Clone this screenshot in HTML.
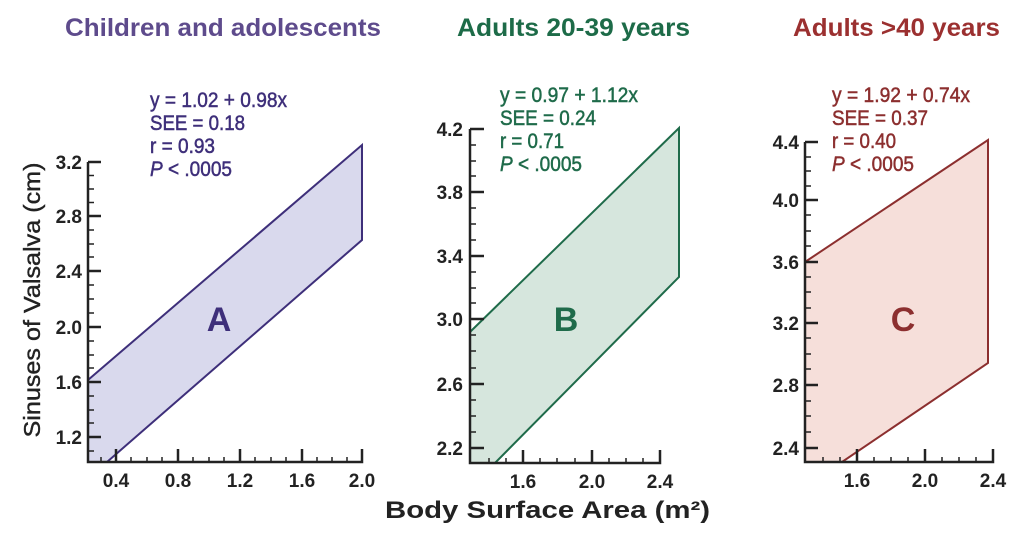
<!DOCTYPE html>
<html><head><meta charset="utf-8"><style>
html,body{margin:0;padding:0;background:#fff;}
svg{display:block;}
text{font-family:"Liberation Sans",sans-serif;}
</style></head><body>
<svg width="1024" height="540" viewBox="0 0 1024 540" xmlns="http://www.w3.org/2000/svg">
<!-- Titles -->
<text x="65" y="36" font-size="25" font-weight="bold" fill="#5e4b8c" textLength="316" lengthAdjust="spacingAndGlyphs">Children and adolescents</text>
<text x="457" y="36" font-size="25" font-weight="bold" fill="#1d6b48" textLength="233" lengthAdjust="spacingAndGlyphs">Adults 20-39 years</text>
<text x="793" y="36" font-size="25" font-weight="bold" fill="#9b3030" textLength="207" lengthAdjust="spacingAndGlyphs">Adults &gt;40 years</text>

<!-- Panel A -->
<polygon points="88,380 362,145 362,240 107,462 88,462" fill="#d9d9ed" stroke="#3e2f7a" stroke-width="2"/>
<g stroke="#222" stroke-width="2.5" fill="none">
<path d="M88,162 V462 H362 V449"/>
<path d="M88,162 H101 M88,216 H101 M88,271 H101 M88,327 H101 M88,382 H101 M88,437 H101"/>
<path d="M116,462 V449 M178,462 V449 M240,462 V449 M302,462 V449"/>
</g>
<g stroke="#222" stroke-width="1.5">
<path d="M88,175.5 H94 M88,189 H94 M88,202.5 H94 M88,230 H94 M88,244 H94 M88,257 H94 M88,285 H94 M88,299 H94 M88,313 H94 M88,341 H94 M88,355 H94 M88,368 H94 M88,396 H94 M88,410 H94 M88,423 H94 M88,451 H94"/>
<path d="M131,462 V457 M147,462 V457 M162,462 V457 M193,462 V457 M209,462 V457 M224,462 V457 M255,462 V457 M271,462 V457 M286,462 V457 M317,462 V457 M332,462 V457 M347,462 V457 M101,462 V457"/>
</g>
<g font-size="19" font-weight="bold" fill="#222" text-anchor="end">
<text x="82" y="169">3.2</text><text x="82" y="223">2.8</text><text x="82" y="278">2.4</text><text x="82" y="334">2.0</text><text x="82" y="389">1.6</text><text x="82" y="444">1.2</text>
</g>
<g font-size="19" font-weight="bold" fill="#222" text-anchor="middle">
<text x="116" y="487">0.4</text><text x="178" y="487">0.8</text><text x="240" y="487">1.2</text><text x="302" y="487">1.6</text><text x="362" y="487">2.0</text>
</g>
<g font-size="21" fill="#3e2f7a" stroke="#3e2f7a" stroke-width="0.5">
<text x="150" y="107" textLength="137" lengthAdjust="spacingAndGlyphs">y = 1.02 + 0.98x</text>
<text x="150" y="130" textLength="95" lengthAdjust="spacingAndGlyphs">SEE = 0.18</text>
<text x="150" y="153" textLength="65" lengthAdjust="spacingAndGlyphs">r = 0.93</text>
<text x="150" y="176" textLength="82" lengthAdjust="spacingAndGlyphs"><tspan font-style="italic">P</tspan> &lt; .0005</text>
</g>
<text x="219" y="331" font-size="34" font-weight="bold" fill="#3e2f7a" text-anchor="middle">A</text>

<!-- Panel B -->
<polygon points="470,332 679,128 679,277 495,463 470,463" fill="#d6e6dd" stroke="#1f6b4a" stroke-width="2"/>
<g stroke="#222" stroke-width="2.5" fill="none">
<path d="M470,129 V463 H660 V450"/>
<path d="M470,129 H484 M470,192 H484 M470,256 H484 M470,319 H484 M470,384 H484 M470,448 H484"/>
<path d="M523,463 V450 M592,463 V450"/>
</g>
<g stroke="#222" stroke-width="1.5">
<path d="M470,145 H476 M470,161 H476 M470,176 H476 M470,208 H476 M470,224 H476 M470,240 H476 M470,272 H476 M470,288 H476 M470,303 H476 M470,335 H476 M470,351 H476 M470,368 H476 M470,400 H476 M470,416 H476 M470,432 H476"/>
<path d="M489,463 V458 M506,463 V458 M540,463 V458 M557,463 V458 M575,463 V458 M609,463 V458 M626,463 V458 M643,463 V458"/>
</g>
<g font-size="19" font-weight="bold" fill="#222" text-anchor="end">
<text x="463" y="136">4.2</text><text x="463" y="199">3.8</text><text x="463" y="263">3.4</text><text x="463" y="326">3.0</text><text x="463" y="391">2.6</text><text x="463" y="455">2.2</text>
</g>
<g font-size="19" font-weight="bold" fill="#222" text-anchor="middle">
<text x="523" y="488">1.6</text><text x="592" y="488">2.0</text><text x="660" y="488">2.4</text>
</g>
<g font-size="21" fill="#1f6b4a" stroke="#1f6b4a" stroke-width="0.5">
<text x="500" y="102" textLength="138" lengthAdjust="spacingAndGlyphs">y = 0.97 + 1.12x</text>
<text x="500" y="125" textLength="96" lengthAdjust="spacingAndGlyphs">SEE = 0.24</text>
<text x="500" y="148" textLength="64" lengthAdjust="spacingAndGlyphs">r = 0.71</text>
<text x="500" y="171" textLength="82" lengthAdjust="spacingAndGlyphs"><tspan font-style="italic">P</tspan> &lt; .0005</text>
</g>
<text x="566" y="331" font-size="34" font-weight="bold" fill="#1f6b4a" text-anchor="middle">B</text>

<!-- Panel C -->
<polygon points="805,262 988,140 988,363 842,462 805,462" fill="#f6dfda" stroke="#8c2f2f" stroke-width="2"/>
<g stroke="#222" stroke-width="2.5" fill="none">
<path d="M805,142 V462 H993 V449"/>
<path d="M805,142 H818 M805,200 H818 M805,262 H818 M805,323 H818 M805,385 H818 M805,448 H818"/>
<path d="M857,462 V449 M925,462 V449"/>
</g>
<g stroke="#222" stroke-width="1.5">
<path d="M805,157 H811 M805,171 H811 M805,186 H811 M805,215 H811 M805,231 H811 M805,246 H811 M805,277 H811 M805,292 H811 M805,308 H811 M805,338 H811 M805,354 H811 M805,369 H811 M805,401 H811 M805,416 H811 M805,432 H811"/>
<path d="M823,462 V457 M840,462 V457 M874,462 V457 M891,462 V457 M908,462 V457 M942,462 V457 M959,462 V457 M976,462 V457"/>
</g>
<g font-size="19" font-weight="bold" fill="#222" text-anchor="end">
<text x="799" y="149">4.4</text><text x="799" y="207">4.0</text><text x="799" y="269">3.6</text><text x="799" y="330">3.2</text><text x="799" y="392">2.8</text><text x="799" y="455">2.4</text>
</g>
<g font-size="19" font-weight="bold" fill="#222" text-anchor="middle">
<text x="857" y="487">1.6</text><text x="925" y="487">2.0</text><text x="993" y="487">2.4</text>
</g>
<g font-size="21" fill="#8c2f2f" stroke="#8c2f2f" stroke-width="0.5">
<text x="832" y="102" textLength="138" lengthAdjust="spacingAndGlyphs">y = 1.92 + 0.74x</text>
<text x="832" y="125" textLength="96" lengthAdjust="spacingAndGlyphs">SEE = 0.37</text>
<text x="832" y="148" textLength="64" lengthAdjust="spacingAndGlyphs">r = 0.40</text>
<text x="832" y="171" textLength="82" lengthAdjust="spacingAndGlyphs"><tspan font-style="italic">P</tspan> &lt; .0005</text>
</g>
<text x="903" y="331" font-size="34" font-weight="bold" fill="#8c2f2f" text-anchor="middle">C</text>

<!-- Axis labels -->
<text transform="translate(40,300) rotate(-90)" font-size="23" fill="#222" stroke="#222" stroke-width="0.4" text-anchor="middle" textLength="275" lengthAdjust="spacingAndGlyphs">Sinuses of Valsalva (cm)</text>
<text x="385" y="518" font-size="24" font-weight="bold" fill="#222" textLength="325" lengthAdjust="spacingAndGlyphs">Body Surface Area (m²)</text>
</svg>
</body></html>
